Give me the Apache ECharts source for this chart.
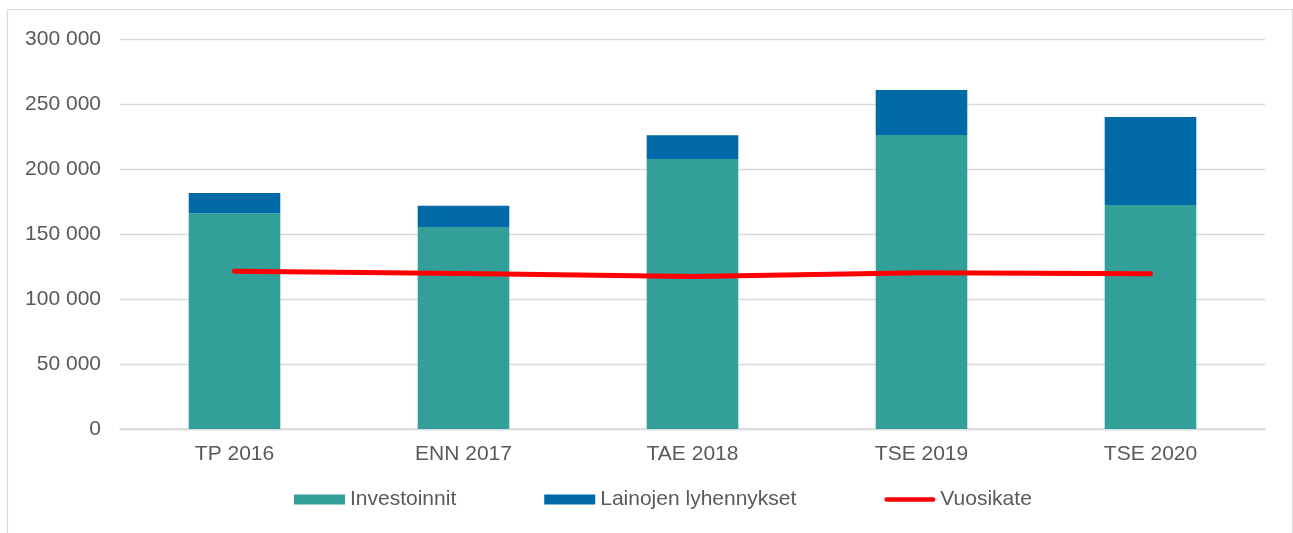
<!DOCTYPE html>
<html>
<head>
<meta charset="utf-8">
<script src="https://cdn.jsdelivr.net/npm/echarts@6/dist/echarts.min.js"></script>
<style>
html,body{margin:0;padding:0;background:#fff;}
#chart{width:1293px;height:533px;}
</style>
</head>
<body>
<div id="chart"></div>
<script>
const categories = ['TP 2016', 'ENN 2017', 'TAE 2018', 'TSE 2019', 'TSE 2020'];
const investoinnit = [166000, 155400, 207700, 226200, 172300];
const lainojenLyhennykset = [15500, 16400, 18200, 34600, 67700];
const vuosikate = [121300, 119600, 117300, 120100, 119500];
const yTicks = { min: 0, max: 300000, interval: 50000 };

const fmt = v => {
  const s = String(Math.round(v));
  return s.replace(/\B(?=(\d{3})+(?!\d))/g, ' ');
};

const chart = echarts.init(document.getElementById('chart'), null, {renderer: 'canvas'});
const font = 'Liberation Sans, Arial, sans-serif';
const textColor = '#595959';

chart.setOption({
  animation: false,
  backgroundColor: '#ffffff',
  textStyle: { fontFamily: font },
  graphic: [{
    type: 'rect',
    shape: { x: 7.5, y: 9.5, width: 1285, height: 540 },
    style: { fill: 'none', stroke: '#d9d9d9', lineWidth: 1.2 },
    silent: true, z: -1
  }],
  grid: { left: 120, right: 28, top: 39, bottom: 104, containLabel: false },
  legend: {
    top: 484,
    left: 289,
    itemWidth: 51,
    itemHeight: 10,
    itemGap: 88,
    symbolKeepAspect: true,
    textStyle: { color: textColor, fontSize: 21, fontFamily: font },
    data: [
      { name: 'Investoinnit', icon: 'rect' },
      { name: 'Lainojen lyhennykset', icon: 'rect' },
      { name: 'Vuosikate', icon: 'path://M2.5,0 L53.5,0 A2.5,2.5 0 0 1 53.5,5 L2.5,5 A2.5,2.5 0 0 1 2.5,0 Z',
        itemStyle: { color: '#ff0000' } }
    ]
  },
  xAxis: {
    type: 'category',
    data: categories,
    boundaryGap: true,
    axisLine: { show: true, lineStyle: { color: '#d9d9d9', width: 1.6 } },
    axisTick: { show: false },
    axisLabel: { color: textColor, fontSize: 21, fontFamily: font, margin: 15 }
  },
  yAxis: {
    type: 'value',
    min: yTicks.min, max: yTicks.max, interval: yTicks.interval,
    axisLine: { show: false },
    axisTick: { show: false },
    splitLine: { lineStyle: { color: '#d9d9d9', width: 1.3 } },
    axisLabel: { color: textColor, fontSize: 21, fontFamily: font, margin: 19, formatter: fmt }
  },
  series: [
    {
      name: 'Investoinnit', type: 'bar', stack: 'total', data: investoinnit,
      barWidth: '40%',
      itemStyle: { color: '#339f99' }
    },
    {
      name: 'Lainojen lyhennykset', type: 'bar', stack: 'total', data: lainojenLyhennykset,
      barWidth: '40%',
      itemStyle: { color: '#006aa6' }
    },
    {
      name: 'Vuosikate', type: 'line', data: vuosikate,
      symbol: 'none', showSymbol: false, z: 5,
      lineStyle: { color: '#ff0000', width: 5, cap: 'round', join: 'round' },
      itemStyle: { color: '#ff0000' }
    }
  ]
});
</script>
</body>
</html>
